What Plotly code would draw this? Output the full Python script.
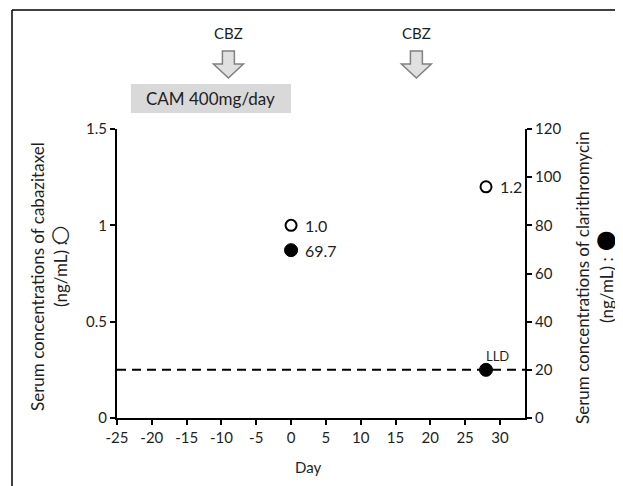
import plotly.graph_objects as go

# ---- data ----
cbz_days = [0, 28]                 # cabazitaxel sampling days
cbz_conc = [1.0, 1.2]              # ng/mL (left axis)
cbz_labels = ["1.0", "1.2"]
cam_days = [0, 28]                 # clarithromycin sampling days
cam_conc = [69.7, 20]              # ng/mL (right axis)
cam_labels = ["69.7", "LLD"]
lld_value = 20                     # lower limit of detection (right axis)
cbz_dose_days = [-9, 18]           # CBZ administration arrows
cam_period = [-23, 0]              # CAM 400mg/day period
x_ticks = [-25, -20, -15, -10, -5, 0, 5, 10, 15, 20, 25, 30]
y_left_ticks = [0, 0.5, 1, 1.5]
y_right_ticks = [0, 20, 40, 60, 80, 100, 120]
x_range = [-25, 33.6]

FONT = "Lato"
TXT = "#1e1e1e"

# page has an 8px body margin: figure coords = page coords - 8
OFF = 8
W, H = 623 - OFF, 486 - OFF
L, R, T, B = 117 - OFF, 525 - OFF, 129 - OFF, 418 - OFF

def px(x):  # page pixel x -> paper
    return (x - OFF - L) / (R - L)
def py(y):  # page pixel y -> paper
    return (B - (y - OFF)) / (B - T)

fig = go.Figure()

# LLD dashed line
fig.add_trace(go.Scatter(
    x=x_range, y=[lld_value, lld_value], yaxis="y2", mode="lines",
    line=dict(color="black", width=2, dash="9px,6px"),
    hoverinfo="skip", showlegend=False, cliponaxis=False))

# cabazitaxel (open circles)
fig.add_trace(go.Scatter(
    x=cbz_days, y=cbz_conc, mode="markers",
    marker=dict(symbol="circle", size=11, color="white",
                line=dict(color="black", width=2)),
    showlegend=False, cliponaxis=False))

# clarithromycin (filled circles)
fig.add_trace(go.Scatter(
    x=cam_days, y=cam_conc, yaxis="y2", mode="markers",
    marker=dict(symbol="circle", size=13, color="black",
                line=dict(color="black", width=1)),
    showlegend=False, cliponaxis=False))

shapes = []
annotations = []

# value labels
for d, v, t in zip(cbz_days, cbz_conc, cbz_labels):
    annotations.append(dict(xref="x", yref="y", x=d, y=v, text=t, showarrow=False,
                            xanchor="left", yanchor="middle", xshift=12,
                            font=dict(family=FONT, size=16, color=TXT)))
for d, v, t in zip(cam_days, cam_conc, cam_labels):
    if t == "LLD":
        annotations.append(dict(xref="x", yref="y2", x=d, y=v, text=t,
                                showarrow=False, xanchor="center", yanchor="middle",
                                xshift=11, yshift=14,
                                font=dict(family=FONT, size=13, color=TXT)))
    else:
        annotations.append(dict(xref="x", yref="y2", x=d, y=v, text=t,
                                showarrow=False, xanchor="left", yanchor="middle",
                                xshift=12,
                                font=dict(family=FONT, size=16, color=TXT)))

# CAM box
shapes.append(dict(type="rect", xref="x", yref="paper",
                   x0=cam_period[0], x1=cam_period[1], y0=py(113), y1=py(84),
                   fillcolor="#d9d9d9", line=dict(width=0), layer="below"))
annotations.append(dict(xref="x", yref="paper",
                        x=(cam_period[0] + cam_period[1]) / 2, y=py(98.5),
                        xanchor="center", yanchor="middle",
                        text="CAM 400mg/day", showarrow=False,
                        font=dict(family=FONT, size=17, color=TXT)))

# CBZ arrows
sw, hw = 0.86, 2.15
yt, yh, ytip = py(51), py(64), py(78)
for d in cbz_dose_days:
    path = (f"M {d - sw} {yt} L {d + sw} {yt} L {d + sw} {yh} L {d + hw} {yh} "
            f"L {d} {ytip} L {d - hw} {yh} L {d - sw} {yh} Z")
    shapes.append(dict(type="path", xref="x", yref="paper", path=path,
                       fillcolor="#e0e0e0", line=dict(color="#808080", width=1.5)))
    annotations.append(dict(xref="x", yref="paper", x=d, y=py(33), text="CBZ",
                            xanchor="center", yanchor="middle",
                            showarrow=False,
                            font=dict(family=FONT, size=15, color=TXT)))

# figure frame (top & left)
shapes.append(dict(type="line", xref="paper", yref="paper",
                   x0=px(12), x1=px(640), y0=py(10), y1=py(10),
                   line=dict(color="black", width=1.5)))
shapes.append(dict(type="line", xref="paper", yref="paper",
                   x0=px(12), x1=px(12), y0=py(10), y1=py(500),
                   line=dict(color="black", width=1.5)))

# axis titles
title_font = dict(family=FONT, size=17, color=TXT)
annotations += [
    dict(xref="paper", yref="paper", x=px(37), y=py(277), textangle=-90,
         xanchor="center", yanchor="middle",
         text="Serum concentrations of cabazitaxel", showarrow=False, font=title_font),
    dict(xref="paper", yref="paper", x=px(60), y=py(274), textangle=-90,
         xanchor="center", yanchor="middle",
         text="(ng/mL) :", showarrow=False, font=title_font),
    dict(xref="paper", yref="paper", x=px(60), y=py(233),
         xanchor="center", yanchor="middle",
         text="○", showarrow=False, font=dict(family="DejaVu Sans", size=22, color=TXT)),
    dict(xref="paper", yref="paper", x=px(582), y=py(278), textangle=-90,
         xanchor="center", yanchor="middle",
         text="Serum concentrations of clarithromycin", showarrow=False, font=title_font),
    dict(xref="paper", yref="paper", x=px(606), y=py(290), textangle=-90,
         xanchor="center", yanchor="middle",
         text="(ng/mL) :", showarrow=False, font=title_font),
    dict(xref="paper", yref="paper", x=px(606), y=py(239),
         xanchor="center", yanchor="middle",
         text="●", showarrow=False, font=dict(family="DejaVu Sans", size=24, color="black")),
    dict(xref="paper", yref="paper", x=px(308), y=py(467), text="Day",
         xanchor="center", yanchor="middle",
         showarrow=False, font=dict(family=FONT, size=15, color=TXT)),
]

axis_common = dict(showline=True, linecolor="black", linewidth=2,
                   ticks="outside", ticklen=5, tickwidth=2, tickcolor="black",
                   showgrid=False, zeroline=False, automargin=False,
                   tickfont=dict(family=FONT, size=15, color=TXT))

fig.update_layout(
    width=W, height=H,
    margin=dict(l=L, r=W - R, t=T, b=H - B, autoexpand=False),
    paper_bgcolor="white", plot_bgcolor="white",
    xaxis=dict(range=x_range, tickvals=x_ticks,
               ticktext=[str(v) for v in x_ticks], **axis_common),
    yaxis=dict(range=[0, 1.5], tickvals=y_left_ticks,
               ticktext=[str(v) for v in y_left_ticks], **axis_common),
    yaxis2=dict(range=[0, 120], tickvals=y_right_ticks, overlaying="y",
                side="right", anchor="x", **axis_common),
    shapes=shapes, annotations=annotations, showlegend=False,
)

fig.write_html("out.html")
